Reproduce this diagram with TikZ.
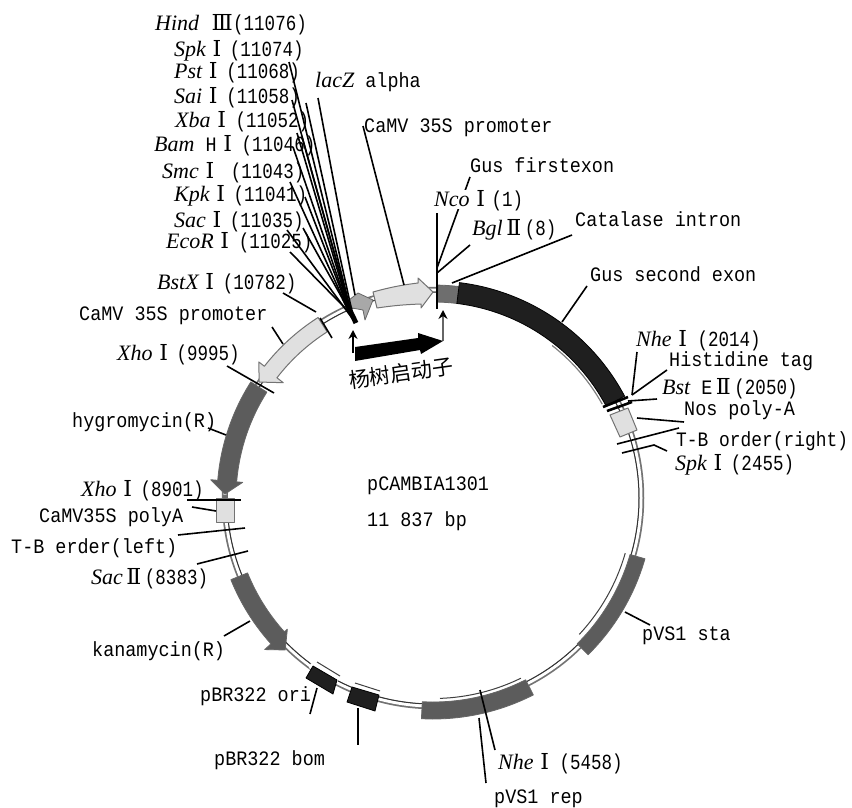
\documentclass[tikz,border=0pt]{standalone}
\usepackage{fontspec}
\usepackage{graphicx}
\usetikzlibrary{arrows.meta}
\setmainfont[FakeStretch=0.9]{Liberation Mono}
\newfontfamily\romf{DejaVu Serif}
\newfontfamily\itf{Liberation Serif}
\newfontfamily\cjkf{Noto Sans CJK SC}
\newcommand{\lf}{\fontsize{20.5}{22}\selectfont}
\newcommand{\rom}[1]{\makebox[22pt][c]{\romf\fontsize{22}{22}\selectfont #1}}
\newcommand{\nb}[1]{\scalebox{.95}[1.05]{#1}}
\newcommand{\itn}[1]{{\itf\itshape\fontsize{22}{22}\selectfont #1}}
\newcommand{\conn}[3]{\coordinate (#1-a) at (#2);\coordinate (#1-b) at (#3);\draw[lead] (#1-a) -- (#1-b);}
\definecolor{gA}{gray}{.36}
\definecolor{gB}{gray}{.88}
\definecolor{gC}{gray}{.66}
\definecolor{gD}{gray}{.43}
\definecolor{gK}{gray}{.12}
\tikzset{
  lab/.style={anchor=base west,inner sep=0pt,font=\lf,text=black},
  lead/.style={draw=black,line width=1.6pt},
  fea/.style={draw=black!60,line width=.8pt,line join=round},
  lit/.style={fea,fill=gB,draw=black!55,line width=1pt},
  dark/.style={fill=gA,draw=black!60,line width=.8pt,line join=round},
  blk/.style={fill=gK,draw=black,line width=.8pt,line join=round},
  bar/.style={draw=black,line width=2.6pt},
  thin/.style={draw=black!75,line width=1pt},
}
\begin{document}
\begin{tikzpicture}[x=1pt,y=1pt]
\useasboundingbox (0,0) rectangle (852,-808);
\fill[white] (0,0) rectangle (852,-808);
\begin{scope}[shift={(433,-498)}]
% ring
\draw[black!55,line width=5.5pt] (0,0) circle (208.5);
\draw[white,line width=3pt] (0,0) circle (208);
\draw[black!80,line width=1pt] (0,0) circle (206);
% exons
\fill[gD,draw=black!60,line width=.8pt] (88.6:196) -- (88.6:213) arc (88.6:83:213) -- (83:196) arc (83:88.6:196) -- cycle;
\fill[gK,draw=black,line width=.8pt] (83:196) -- (83:217) arc (83:28:217) -- (28:196) arc (28:83:196) -- cycle;
\draw[black!50,line width=1.2pt] (52:193.5) arc (52:29:193.5);
% left promoter arrow
\path[lit] (122.5:214) arc (122.5:142:214) -- (142:221) -- (146.3:209) -- (142.4:189) -- (142.4:197) arc (142.4:122.5:197) -- cycle;
% hygromycin
\path[dark] (147.5:216) arc (147.5:175.3:216) -- (175.3:223) -- (178.9:208) -- (175.3:191) -- (175.3:197) arc (175.3:147.5:197) -- cycle;
% kanamycin
\path[dark] (202:218) arc (202:222:218) -- (222:226.5) -- (225.8:212) -- (222:196) -- (222:200) arc (222:202:200) -- cycle;
% pVS1 rep
\fill[white] (272:201) -- (272:205) arc (272:296:205) -- (296:201) arc (296:272:201) -- cycle;
\path[dark] (267:204) arc (267:297:204) -- (297:221) arc (297:267:221) -- cycle;
\draw[thin] (272:200.5) arc (272:296:200.5);
% pVS1 sta
\fill[white] (-18:201) -- (-18:205) arc (-18:-43:205) -- (-43:201) arc (-43:-18:201) -- cycle;
\path[dark] (-16:205) arc (-16:-45.3:205) -- (-45.3:220.5) arc (-45.3:-16:220.5) -- cycle;
\draw[thin] (-16:200) arc (-16:-43:200);
\end{scope}
\path[lit] (610,-415) -- (628,-408) -- (637,-430) -- (620,-437) -- cycle;
\path[lit] (373,-292) to[bend left=4] (418,-283) -- (418,-278) -- (433,-292) -- (421,-308) -- (421,-304) to[bend right=3] (377,-308) -- cycle;
\path[fea,fill=gC] (349,-300) -- (358,-293) -- (373,-300) -- (365,-320) -- (363,-310) -- (352,-308) -- cycle;
\path[lit] (216,-498) rectangle (234,-522);
\fill[white] (311,-663) -- (340,-678) -- (337,-682) -- (309,-668) -- cycle;
\fill[white] (354,-684) -- (380,-692) -- (378,-697) -- (351,-689) -- cycle;
\path[blk] (313,-666) -- (337,-680) -- (333,-694) -- (306,-678) -- cycle;
\path[blk] (352,-687) -- (379,-695) -- (375,-711) -- (347,-702) -- cycle;
\draw[thin] (317,-662) -- (340,-676);
\draw[thin] (355,-683) -- (380,-691);
\fill[gD] (225,-497) circle (2.5);
% labels
\node[lab] (tHind) at (155,-31) {\itn{Hind}\hspace{12pt}\rom{Ⅲ}\nb{(11076)}};
\node[lab] (tSpk) at (174,-57) {\itn{Spk}\rom{Ⅰ}\hspace{2pt}\nb{(11074)}};
\node[lab] (tPst) at (174,-79) {\itn{Pst}\rom{Ⅰ}\hspace{2pt}\nb{(11068)}};
\node[lab] (tSai) at (174,-103) {\itn{Sai}\rom{Ⅰ}\hspace{2pt}\nb{(11058)}};
\node[lab] (tXba) at (175,-128) {\itn{Xba}\rom{Ⅰ}\hspace{3pt}\nb{(11052)}};
\node[lab] (tBam) at (154,-151) {\itn{Bam} H\rom{Ⅰ}\hspace{3pt}\nb{(11046)}};
\node[lab] (tSmc) at (162,-178) {\itn{Smc}\rom{Ⅰ}\hspace{10pt}\nb{(11043)}};
\node[lab] (tKpk) at (174,-201) {\itn{Kpk}\rom{Ⅰ}\hspace{2pt}\nb{(11041)}};
\node[lab] (tSac) at (174,-227) {\itn{Sac}\rom{Ⅰ}\hspace{2pt}\nb{(11035)}};
\node[lab] (tEco) at (166,-248) {\itn{EcoR}\rom{Ⅰ}\hspace{3pt}\nb{(11025)}};
\node[lab] (tBstX) at (157,-289) {\itn{BstX}\rom{Ⅰ}\hspace{2pt}\nb{(10782)}};
\node[lab] (tlac) at (315,-88) {\itn{lacZ} alpha};
\node[lab] (tCa1) at (364,-132) {CaMV 35S promoter};
\node[lab] (tCa2) at (79,-320) {CaMV 35S promoter};
\node[lab] (tXh1) at (117,-360) {\itn{Xho}\rom{Ⅰ}\hspace{2pt}\nb{(9995)}};
\node[lab] (thyg) at (72,-427) {hygromycin(R)};
\node[lab] (tXh2) at (81,-496) {\itn{Xho}\rom{Ⅰ}\hspace{2pt}\nb{(8901)}};
\node[lab] (tpolyA) at (39,-522) {CaMV35S polyA};
\node[lab] (tTBl) at (11,-553) {T-B erder(left)};
\node[lab] (tSacII) at (91,-584) {\itn{Sac}\rom{Ⅱ}\nb{(8383)}};
\node[lab] (tkan) at (92,-656) {kanamycin(R)};
\node[lab] (tori) at (200,-701) {pBR322 ori};
\node[lab] (tbom) at (214,-765) {pBR322 bom};
\node[lab] (tNh2) at (498,-769) {\itn{Nhe}\rom{Ⅰ}\hspace{4pt}\nb{(5458)}};
\node[lab] (trep) at (494,-803) {pVS1 rep};
\node[lab] (tsta) at (642,-640) {pVS1 sta};
\node[lab] (tplas) at (367,-490) {pCAMBIA1301};
\node[lab] (tbp) at (367,-526) {11 837 bp};
\node[lab] (tGus1) at (470,-172) {Gus firstexon};
\node[lab] (tBgl) at (472,-235) {\itn{Bgl}\rom{Ⅱ}\nb{(8)}};
\node[lab] (tCat) at (575,-226) {Catalase intron};
\node[lab] (tGus2) at (590,-281) {Gus second exon};
\node[lab] (tNh1) at (636,-346) {\itn{Nhe}\rom{Ⅰ}\hspace{4pt}\nb{(2014)}};
\node[lab] (tHis) at (669,-366) {Histidine tag};
\node[lab] (tBst) at (662,-394) {\itn{Bst} E\rom{Ⅱ}\nb{(2050)}};
\node[lab] (tNos) at (684,-415) {Nos poly-A};
\node[lab] (tTBr) at (676,-446) {\scalebox{.97}[1]{T-B order(right)}};
\node[lab] (tSp2) at (675,-470) {\itn{Spk}\rom{Ⅰ}\hspace{2pt}\nb{(2455)}};
\node[anchor=center,inner sep=0pt,rotate=8,font=\cjkf\fontsize{21}{21}\selectfont] (tcn) at (401,-373) {杨树启动子};
% connectors
\conn{c1}{289,-62}{352,-316}
\conn{c2}{306,-103}{353,-316}
\conn{c3}{292,-100}{351,-314}
\conn{c4}{297,-133}{351,-316}
\conn{c5}{302,-137}{352,-316}
\conn{c6}{293,-147}{351,-316}
\conn{c7}{290,-182}{351,-316}
\conn{c8}{305,-197}{351,-316}
\conn{c9}{287,-230}{352,-318}
\conn{c10}{303,-228}{351,-314}
\conn{c11}{290,-252}{351,-314}
\coordinate (cb-a) at (344,-298);\coordinate (cb-b) at (356,-323);
\draw[draw=black,line width=5pt] (cb-a) -- (cb-b);
\conn{lac}{318,-98}{355,-295}
\conn{cam1}{363,-126}{404,-285}
\conn{gus1}{470,-177}{437,-268}
\conn{nco}{437,-213}{437,-275}
\conn{bgl}{470,-245}{437,-273}
\conn{cat}{572,-235}{452,-283}
\draw[bar] (437,-273) -- (437,-309);
\conn{sNh}{637,-352}{632,-395}
\conn{sHis}{667,-370}{632,-395}
\conn{sBst}{657,-399}{628,-401}
\draw[bar] (603,-407) -- (628,-397);
\draw[bar] (607,-411) -- (632,-402);
\conn{sNos}{637,-418}{684,-422}
\conn{sTB}{617,-444}{679,-428}
\coordinate (spm) at (654,-445);\coordinate (spa) at (622,-453);\coordinate (spb) at (667,-451);
\draw[lead] (spa) -- (spm) -- (spb);
\conn{sGus2}{587,-286}{562,-322}
\conn{bx}{283,-293}{316,-312}
\conn{bx2}{320,-318}{332,-338}
\conn{ca2}{272,-327}{283,-344}
\conn{xh1}{227,-366}{274,-393}
\conn{hy}{208,-428}{226,-435}
\conn{xh2}{187,-500}{241,-500}
\conn{pa}{192,-507}{216,-511}
\conn{tbl}{178,-535}{245,-528}
\conn{sc2}{197,-564}{248,-551}
\conn{kn}{224,-636}{250,-621}
\conn{ori}{317,-688}{310,-714}
\conn{bom}{358,-708}{358,-745}
\conn{rep}{479,-718}{486,-783}
\conn{nh5}{480,-690}{495,-750}
\conn{sta}{625,-612}{650,-625}
\node[lab,fill=white,text depth=3pt] (tNco) at (434,-206) {\itn{Nco}\rom{Ⅰ}\nb{(1)}};
\coordinate (a1) at (353,-353);\coordinate (a2) at (353,-330);\coordinate (a3) at (443,-341);\coordinate (a4) at (443,-310);
\draw[black,line width=1.6pt,-{Stealth[length=9pt,width=9pt,black]}] (a1) -- (a2);
\draw[black!60,line width=1.6pt,-{Stealth[length=9pt,width=9pt,black]}] (a3) -- (a4);
\fill[black] (355,-347) -- (418,-338) -- (418,-333) -- (443,-341) -- (421,-354) -- (420,-350) -- (355,-361) -- cycle;
\end{tikzpicture}
\end{document}
